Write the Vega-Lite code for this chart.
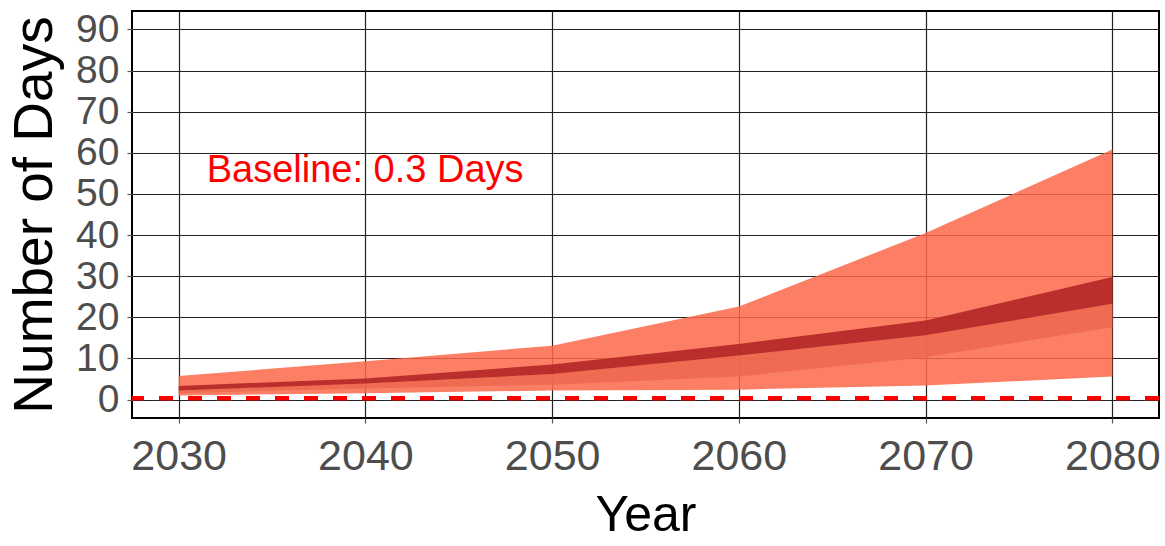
{
  "$schema": "https://vega.github.io/schema/vega-lite/v6.json",
  "width": 1027,
  "height": 407,
  "autosize": {"type": "none"},
  "padding": {"left": 132, "top": 11, "right": 6, "bottom": 128},
  "background": "white",
  "config": {
    "font": "Liberation Sans",
    "view": {"stroke": "black", "strokeWidth": 2},
    "axis": {
      "domain": false,
      "grid": true,
      "gridColor": "#222222",
      "gridWidth": 1.2,
      "tickColor": "#555555",
      "tickSize": 5,
      "tickWidth": 1.2,
      "labelColor": "#4d4d4d",
      "labelFont": "Liberation Sans",
      "titleFont": "Liberation Sans",
      "titleColor": "black",
      "titleFontWeight": "normal"
    }
  },
  "datasets": {
    "bands": [
      {"year": 2030, "lo": 1.0, "mlo": 1.5, "dlo": 2.2, "dhi": 3.3, "hi": 5.7},
      {"year": 2040, "lo": 1.5, "mlo": 2.7, "dlo": 3.9, "dhi": 5.1, "hi": 9.3},
      {"year": 2050, "lo": 2.2, "mlo": 3.6, "dlo": 6.2, "dhi": 8.5, "hi": 13.1},
      {"year": 2060, "lo": 2.4, "mlo": 5.6, "dlo": 10.7, "dhi": 13.5, "hi": 22.6},
      {"year": 2070, "lo": 3.4, "mlo": 10.3, "dlo": 15.6, "dhi": 19.2, "hi": 40.5},
      {"year": 2080, "lo": 5.6, "mlo": 17.6, "dlo": 23.3, "dhi": 29.8, "hi": 60.8}
    ],
    "note": [
      {"year": 2031.5, "value": 55.5, "label": "Baseline: 0.3 Days"}
    ],
    "baseline": [
      {"value": 0.3}
    ]
  },
  "layer": [
    {
      "data": {"name": "bands"},
      "mark": {"type": "area", "color": "#fc684a", "opacity": 0.85},
      "encoding": {
        "x": {
          "field": "year",
          "type": "quantitative",
          "scale": {"domain": [2027.5, 2082.5], "nice": false, "zero": false},
          "axis": {
            "values": [2030, 2040, 2050, 2060, 2070, 2080],
            "format": "d",
            "labelFontSize": 43,
            "labelPadding": 12,
            "title": "Year",
            "titleFontSize": 50,
            "titlePadding": 12
          }
        },
        "y": {
          "field": "hi",
          "type": "quantitative",
          "scale": {"domain": [-4.5, 94.5], "nice": false, "zero": false},
          "axis": {
            "values": [0, 10, 20, 30, 40, 50, 60, 70, 80, 90],
            "labelFontSize": 39,
            "labelPadding": 8,
            "title": "Number of Days",
            "titleFontSize": 55,
            "titlePadding": 12
          }
        },
        "y2": {"field": "lo"}
      }
    },
    {
      "data": {"name": "bands"},
      "mark": {"type": "area", "color": "#ec684f", "opacity": 0.85},
      "encoding": {
        "x": {"field": "year", "type": "quantitative"},
        "y": {"field": "dlo", "type": "quantitative"},
        "y2": {"field": "mlo"}
      }
    },
    {
      "data": {"name": "bands"},
      "mark": {"type": "area", "color": "#ae2022", "opacity": 0.85},
      "encoding": {
        "x": {"field": "year", "type": "quantitative"},
        "y": {"field": "dhi", "type": "quantitative"},
        "y2": {"field": "dlo"}
      }
    },
    {
      "data": {"name": "baseline"},
      "mark": {"type": "rule", "color": "#ff0000", "strokeWidth": 4.5, "strokeDash": [14, 15]},
      "encoding": {
        "y": {"field": "value", "type": "quantitative"}
      }
    },
    {
      "data": {"name": "note"},
      "mark": {"type": "text", "color": "#ff0000", "fontSize": 38, "align": "left", "baseline": "middle", "font": "Liberation Sans"},
      "encoding": {
        "x": {"field": "year", "type": "quantitative"},
        "y": {"field": "value", "type": "quantitative"},
        "text": {"field": "label"}
      }
    }
  ]
}
